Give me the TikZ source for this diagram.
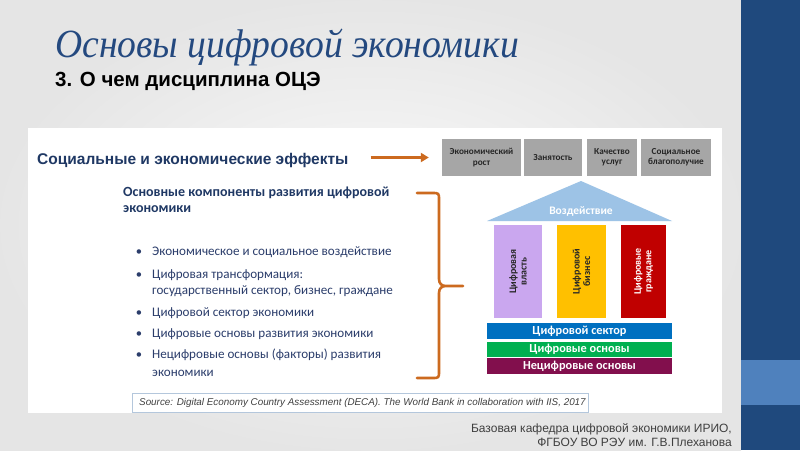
\documentclass[tikz,border=0pt]{standalone}
\usepackage{fontspec}
\setmainfont{Liberation Sans}
\newfontfamily\ttlfont[FakeStretch=0.94]{Liberation Serif}
\newfontfamily\calfont{Carlito}
\usetikzlibrary{arrows.meta}
\definecolor{titleblue}{HTML}{24497F}
\definecolor{navy}{HTML}{1F3864}
\definecolor{bultext}{HTML}{2B3D6B}
\definecolor{orng}{HTML}{CC6A1F}
\definecolor{boxgray}{HTML}{A6A6A6}
\definecolor{roof}{HTML}{9DC3E6}
\definecolor{lav}{HTML}{CAA7EF}
\definecolor{yel}{HTML}{FFC000}
\definecolor{redp}{HTML}{C00000}
\definecolor{bluebar}{HTML}{0070C0}
\definecolor{greenbar}{HTML}{00B050}
\definecolor{maroon}{HTML}{820F4D}
\definecolor{sidebar}{HTML}{1F497D}
\definecolor{sideband}{HTML}{4F81BD}
\definecolor{foot}{HTML}{3F3F3F}
\definecolor{srcborder}{HTML}{B4C7DC}
\tikzset{
  effbox/.style={fill=boxgray, draw=none, inner sep=0pt, align=center, text=black!85,
    font=\calfont\bfseries\fontsize{9.2}{10.2}\selectfont},
  pillar/.style={draw=none, inner sep=0pt},
  pillartext/.style={rotate=90, align=center, inner sep=0pt,
    font=\calfont\bfseries\fontsize{10}{10.5}\selectfont},
  barbox/.style={draw=none, inner sep=0pt, text=white,
    font=\calfont\bfseries\fontsize{12.3}{13}\selectfont},
  bul/.style={anchor=base west, inner sep=0pt, text=bultext,
    font=\calfont\fontsize{13.1}{14}\selectfont},
  bulmark/.style={anchor=base, inner sep=0pt, text=bultext,
    font=\calfont\fontsize{12.6}{14}\selectfont},
}
\begin{document}
\begin{tikzpicture}[x=1pt,y=-1pt]
\useasboundingbox (0,0) rectangle (800,450);
% background
\shade[inner color=gray!4, outer color=gray!20] (0,0) rectangle (741,450);
\fill[sidebar] (741,0) rectangle (800,450);
\fill[sideband] (741,360) rectangle (800,405);
% title
\node[anchor=base west, inner sep=0, text=titleblue,
  font=\ttlfont\itshape\fontsize{40}{40}\selectfont] (title) at (55,57) {Основы цифровой экономики};
\node[anchor=base west, inner sep=0, text=black,
  font=\bfseries\fontsize{20.5}{22}\selectfont] (subtitle) at (55,86) {3. О чем дисциплина ОЦЭ};
% white panel
\fill[white] (28,128) rectangle (722,413);
% effects
\node[anchor=base west, inner sep=0, text=navy,
  font=\bfseries\fontsize{15.5}{17}\selectfont] (eff) at (37,164) {Социальные и экономические эффекты};
\node[effbox, minimum width=79pt, minimum height=37pt] (b1) at (481.5,157.5) {Экономический\\рост};
\node[effbox, minimum width=58pt, minimum height=37pt] (b2) at (553,157.5) {Занятость};
\node[effbox, minimum width=50pt, minimum height=37pt] (b3) at (612,157.5) {Качество\\услуг};
\node[effbox, minimum width=70pt, minimum height=37pt] (b4) at (676,157.5) {Социальное\\благополучие};
\draw[orng, line width=2.6pt, -{Triangle[length=8pt,width=9pt]}, shorten <=22pt, shorten >=13pt]
  (eff.east |- b1.west) -- (b1.west);
% components heading
\node[anchor=base west, inner sep=0, text=navy, align=left,
  font=\calfont\bfseries\fontsize{14}{16}\selectfont] (comp) at (123,212) {Основные компоненты развития цифровой\\экономики};
% bullets
\foreach \y/\t [count=\i] in {255/Экономическое и социальное воздействие,
  278/Цифровая трансформация:,
  316/Цифровой сектор экономики,
  337/Цифровые основы развития экономики,
  358/Нецифровые основы (факторы) развития}{
  \node[bulmark] (m\i) at (139,\y) {•};
  \node[bul] (t\i) at (152,\y) {\t};
}
\node[bul] (t2b) at (152,294) {государственный сектор, бизнес, граждане};
\node[bul] (t5b) at (152,376) {экономики};
% brace
\coordinate (bt) at (417,193);
\coordinate (bm) at (463,286);
\coordinate (bb) at (417,378);
\draw[orng, line width=2.6pt, line cap=round, line join=round]
  (bt) -- ++(15,0) .. controls +(7,0) and +(0,-7) .. ++(7,7)
  -- (439,279) .. controls +(0,5) and +(-4,0) .. (446,286) -- (bm)
  (446,286) .. controls +(-4,0) and +(0,-5) .. (439,293)
  -- (439,371) .. controls +(0,7) and +(7,0) .. (432,378) -- (bb);
% house roof
\coordinate (apex) at (581,181);
\coordinate (rl) at (487,221);
\coordinate (rr) at (672,221);
\fill[roof] (apex) -- (rr) -- (rl) -- cycle;
\node[inner sep=0, text=white, font=\calfont\bfseries\fontsize{11.5}{12}\selectfont] (roofl) at (581,211) {Воздействие};
% pillars
\node[pillar, fill=lav, minimum width=48pt, minimum height=93pt] (p1) at (518,271.5) {};
\node[pillar, fill=yel, minimum width=49pt, minimum height=93pt] (p2) at (581.5,271.5) {};
\node[pillar, fill=redp, minimum width=45pt, minimum height=93pt] (p3) at (643.5,271.5) {};
\node[pillartext, text=black!85] at (p1) {Цифровая\\власть};
\node[pillartext, text=black!85] at (p2) {Цифровой\\бизнес};
\node[pillartext, text=white] at (p3) {Цифровые\\граждане};
% bars
\node[barbox, fill=bluebar, minimum width=185pt, minimum height=16pt] (s1) at (579.5,331) {Цифровой сектор};
\node[barbox, fill=greenbar, minimum width=185pt, minimum height=15pt] (s2) at (579.5,349.5) {Цифровые основы};
\node[barbox, fill=maroon, minimum width=185pt, minimum height=16pt] (s3) at (579.5,366) {Нецифровые основы};
% source
\node[draw=srcborder, line width=0.9pt, fill=white, minimum width=456pt, minimum height=19pt,
  inner sep=0] (src) at (360,402.5) {};
\node[anchor=west, inner sep=0, text=black!75, font=\itshape\fontsize{9.85}{11}\selectfont]
  (srct) at (139,402.5) {Source: Digital Economy Country Assessment (DECA). The World Bank in collaboration with IIS, 2017};
% footer
\node[anchor=base east, inner sep=0, text=foot, align=right,
  font=\fontsize{12}{14.5}\selectfont] (footer) at (732,446.5) {Базовая кафедра цифровой экономики ИРИО,\\ФГБОУ ВО РЭУ им. Г.В.Плеханова};
\end{tikzpicture}
\end{document}
